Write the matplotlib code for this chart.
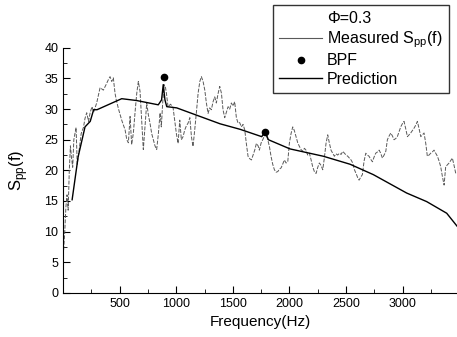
import matplotlib
matplotlib.use('Agg')
import matplotlib.pyplot as plt
from matplotlib.lines import Line2D
from matplotlib.ticker import MultipleLocator

plt.rcParams['font.family'] = ['Liberation Sans', 'DejaVu Sans']
plt.rcParams['mathtext.fontset'] = 'custom'
plt.rcParams['mathtext.rm'] = 'Liberation Sans'

# measured spectrum S_pp(f)
meas_f = [5, 15, 25, 35, 45, 55, 65, 75, 85, 95, 105, 115, 125, 140, 160, 180, 194, 209,
          225, 240, 256, 270, 297, 327, 356, 380, 400, 415, 430, 444, 459, 470, 490, 518,
          548, 563, 577, 592, 606, 621, 636, 651, 665, 680, 695, 709, 724, 739, 754, 768,
          783, 797, 812, 827, 842, 857, 868, 880, 892, 905, 913, 927, 950, 972, 986, 1001,
          1016, 1031, 1045, 1060, 1075, 1090, 1104, 1120, 1134, 1148, 1163, 1178, 1193,
          1208, 1222, 1237, 1252, 1266, 1281, 1295, 1310, 1325, 1340, 1354, 1369, 1384,
          1399, 1413, 1428, 1443, 1458, 1472, 1487, 1501, 1516, 1531, 1546, 1560, 1575,
          1590, 1605, 1619, 1634, 1649, 1664, 1678, 1693, 1708, 1723, 1734, 1750, 1764,
          1778, 1793, 1808, 1823, 1837, 1852, 1867, 1882, 1897, 1911, 1926, 1940, 1955,
          1970, 1985, 1999, 2014, 2029, 2043, 2058, 2073, 2088, 2102, 2117, 2132, 2146,
          2161, 2176, 2190, 2205, 2220, 2235, 2250, 2264, 2279, 2294, 2308, 2323, 2338,
          2352, 2367, 2382, 2397, 2411, 2426, 2441, 2456, 2471, 2486, 2500, 2515, 2530,
          2544, 2559, 2574, 2588, 2603, 2615, 2630, 2644, 2659, 2674, 2688, 2703, 2718,
          2733, 2748, 2762, 2777, 2792, 2806, 2821, 2836, 2851, 2865, 2880, 2895, 2910,
          2924, 2939, 2953, 2968, 2983, 2997, 3012, 3027, 3042, 3057, 3071, 3086, 3101,
          3116, 3130, 3145, 3160, 3175, 3189, 3204, 3218, 3233, 3248, 3262, 3277, 3292,
          3307, 3322, 3336, 3351, 3366, 3380, 3395, 3410, 3424, 3439, 3454, 3469]
meas_s = [7, 10, 14, 16, 13.5, 20, 24, 22, 20.5, 25, 26, 27, 21, 23, 26, 27, 28.5, 29.4,
          28, 29.5, 30.4, 29.5, 31, 33.5, 33.1, 34, 34.8, 35.3, 34.5, 35.1, 32.6, 31.5, 30,
          28.2, 26.6, 25.0, 24.5, 28.8, 24.2, 26.1, 29.5, 32.6, 34.5, 32.9, 28, 23.4, 27.1,
          31, 29, 27.7, 26, 25, 24, 23.4, 26, 29.4, 27.1, 31, 34, 33.5, 32.6, 30.4, 30.8,
          30.2, 28.2, 26, 24.4, 28.2, 25, 25.5, 26.6, 27.3, 27.7, 28.6, 25.5, 23.9, 26.6,
          29.5, 32.6, 34.5, 35.3, 34.5, 33.1, 31, 29.3, 30.2, 29.9, 31.2, 32, 31, 32.5,
          33.7, 32.6, 29.9, 28.6, 29.5, 30.4, 30.0, 31, 30.5, 31.2, 28.6, 27.7, 27.8, 27.1,
          27.5, 26.6, 24.4, 22.3, 21.9, 21.7, 22.5, 23.3, 24.4, 24, 23.3, 24.5, 25, 25.6,
          26, 25, 23.9, 22.3, 21, 20.1, 19.7, 19.8, 20.2, 20.4, 21, 21.7, 21.2, 21.4, 24.4,
          26, 27.1, 26.5, 25.5, 24.5, 23.9, 23.4, 23.1, 23.6, 23.3, 22.5, 22.8, 21.8, 20.6,
          19.8, 19.5, 20.5, 21.2, 20.8, 20.1, 22, 24.4, 25.8, 24.5, 23.3, 22.8, 22.3, 22.7,
          22.5, 22.8, 22.6, 23.1, 22.8, 22.5, 22.3, 22, 21.7, 21.2, 20.1, 19.5, 18.8, 18.4,
          18.9, 19.3, 21.5, 22.8, 22.5, 22.3, 21.8, 21.4, 22.2, 22.8, 23.0, 23.3, 22.8, 22,
          22.5, 23.1, 25, 25.6, 26.1, 25.6, 25, 25.2, 25.5, 26.3, 27.1, 27.6, 28, 26.8,
          25.5, 25.8, 26.1, 26.5, 26.9, 27.4, 28, 26.8, 25.5, 25.8, 26.1, 24.4, 22.3, 22.5,
          22.8, 23, 23.3, 22.8, 22.3, 21.5, 20.6, 19, 17.6, 20.6, 20.9, 21.2, 21.6, 22,
          20.8, 19.5]

# prediction curve
pred_f = [80, 133, 194, 240, 270, 300, 518, 650, 841, 870, 885, 900, 916, 1004, 1387,
          1564, 1755, 1784, 1814, 2005, 2300, 2535, 2741, 3035, 3212, 3389, 3480]
pred_s = [15.2, 22.2, 27.1, 28, 29.9, 29.9, 31.7, 31.4, 30.7, 31.5, 34, 31.5, 30.4, 30.2,
          27.6, 26.7, 25.5, 26.3, 25.0, 23.5, 22.3, 21.0, 19.3, 16.3, 14.9, 13.0, 10.9]

# blade passing frequency peaks
bpf_f = [892, 1787]
bpf_s = [35.2, 26.2]

fig = plt.figure(figsize=(4.57, 3.37), dpi=100)
ax = fig.add_axes([0.138, 0.131, 0.862, 0.727])

ax.plot(meas_f, meas_s, color='0.35', lw=0.7, ls=(0, (4, 1.5)))
ax.plot(pred_f, pred_s, color='black', lw=1.0)
ax.plot(bpf_f, bpf_s, 'o', color='black', ms=4.5)

ax.set_xlim(0, 3480)
ax.set_ylim(0, 40)
ax.set_xticks([500, 1000, 1500, 2000, 2500, 3000])
ax.xaxis.set_minor_locator(MultipleLocator(250))
ax.yaxis.set_major_locator(MultipleLocator(5))
ax.yaxis.set_minor_locator(MultipleLocator(2.5))
ax.tick_params(which='both', direction='in', labelsize=9)
ax.tick_params(which='major', length=5)
ax.tick_params(which='minor', length=3)
for side in ('top', 'right'):
    ax.spines[side].set_visible(False)

ax.set_xlabel('Frequency(Hz)', fontsize=11)
ax.set_ylabel(r'S$_{\mathrm{pp}}$(f)', fontsize=12, labelpad=10)

handles = [
    Line2D([], [], color='none'),
    Line2D([], [], color='0.35', lw=0.8),
    Line2D([], [], ls='none', marker='o', color='black', ms=4.5),
    Line2D([], [], color='black', lw=1.0),
]
labels = ['\u03a6=0.3', r'Measured S$_{\mathrm{pp}}$(f)', 'BPF', 'Prediction']
fig.legend(handles, labels, loc='upper left', bbox_to_anchor=(0.597, 0.985),
           fontsize=11.5, frameon=True, fancybox=False, edgecolor='black',
           handlelength=2.7, handletextpad=0.3, labelspacing=0.2,
           borderpad=0.4, borderaxespad=0)

fig.savefig('out.png', dpi=100)
